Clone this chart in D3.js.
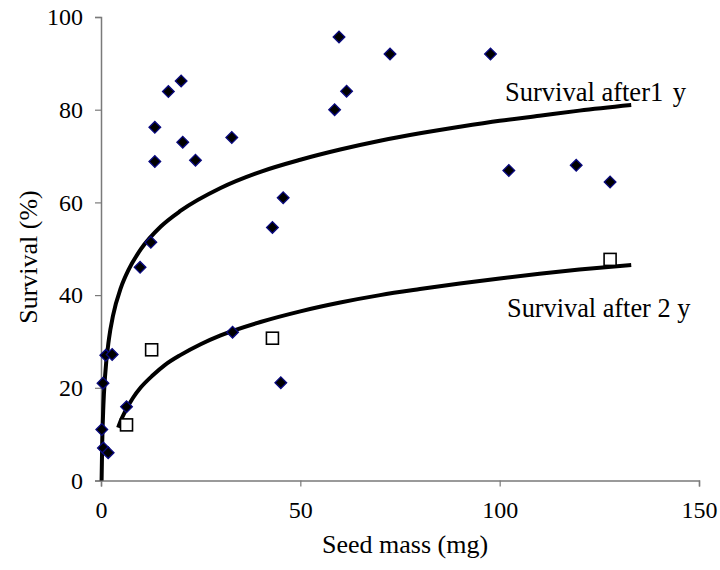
<!DOCTYPE html>
<html><head><meta charset="utf-8">
<script src="https://cdn.jsdelivr.net/npm/d3@7"></script>
<style>body{margin:0;background:#fff}svg{display:block}text{font-family:"Liberation Serif","Times New Roman",serif;fill:#000}</style>
</head><body><svg id="c" width="720" height="570"></svg>
<script>
// Seed mass (mg) vs survival (%) - observed points
const diamondX = [0.2,0.6,1.8,0.5,1.2,2.8,6.4,9.8,12.5,13.5,13.5,16.9,20.1,20.5,23.7,32.8,33.0,43.0,45.1,45.7,58.6,59.7,61.6,72.5,97.7,102.3,119.2,127.7];
const diamondY = [11.0,7.0,6.0,21.0,27.0,27.2,15.9,46.0,51.4,76.2,68.8,83.9,86.2,73.0,69.1,74.0,32.0,54.6,21.1,61.0,80.0,95.7,84.0,92.0,92.0,66.9,68.0,64.4];
const squareX = [6.4,12.7,43.0,127.7];
const squareY = [12.0,28.2,30.7,47.7];
// Trend curves
const curve1X = [0.15,0.3,0.6,1,2,3,5,7,10,15,20,30,40,50,60,70,80,90,100,110,120,133];
const curve1Y = [0,7.9,16.2,22.3,30.6,35.5,41.6,45.6,49.9,54.8,58.2,63.1,66.6,69.2,71.4,73.3,74.9,76.3,77.6,78.7,79.8,81.0];
const curve2X = [4.3,5,6,8,10,13,16,20,25,30,40,50,60,70,80,90,100,110,120,133];
const curve2Y = [11.4,13.0,14.8,17.8,20.1,22.7,24.9,27.1,29.4,31.3,34.2,36.5,38.4,40.0,41.3,42.5,43.6,44.6,45.5,46.5];
const xTicks = [0,50,100,150];
const yTicks = [0,20,40,60,80,100];
const curveLabels = ["Survival after1 y","Survival after 2 y"];
const xTitle = "Seed mass (mg)";
const yTitle = "Survival (%)";

const svg = d3.select("#c");
const x = d3.scaleLinear().domain([0,150]).range([101,699]);
const y = d3.scaleLinear().domain([0,100]).range([480.5,17]);
const axisCol = "#7a7a7a";

const gx = svg.append("g").attr("transform","translate(0,480.5)")
  .call(d3.axisBottom(x).tickValues(xTicks).tickSize(6).tickPadding(9).tickFormat(d3.format("d")));
const gy = svg.append("g").attr("transform","translate(101,0)")
  .call(d3.axisLeft(y).tickValues(yTicks).tickSize(6).tickPadding(12).tickFormat(d3.format("d")));
[gx,gy].forEach(g=>{
  g.select(".domain").attr("stroke",axisCol).attr("stroke-width",1.5);
  g.selectAll(".tick line").attr("stroke",axisCol).attr("stroke-width",1.2);
  g.selectAll(".tick text").attr("font-family","Liberation Serif").attr("font-size",24).attr("fill","#000");
});
gx.selectAll(".tick text").attr("dy","0.95em");

const line = d3.line().x(d=>x(d[0])).y(d=>y(d[1])).curve(d3.curveMonotoneX);
svg.append("path").datum(d3.zip(curve1X,curve1Y)).attr("d",line)
  .attr("fill","none").attr("stroke","#000").attr("stroke-width",4);
svg.append("path").datum(d3.zip(curve2X,curve2Y)).attr("d",line)
  .attr("fill","none").attr("stroke","#000").attr("stroke-width",4);

const diamond = d3.symbol().type(d3.symbolSquare).size(68);
svg.append("g").selectAll("path").data(d3.zip(diamondX,diamondY)).join("path")
  .attr("d",diamond)
  .attr("transform",d=>`translate(${x(d[0])},${y(d[1])}) rotate(45)`)
  .attr("fill","#000").attr("stroke","#0a0a80").attr("stroke-width",1.3);

svg.append("g").selectAll("rect").data(d3.zip(squareX,squareY)).join("rect")
  .attr("x",d=>x(d[0])-6).attr("y",d=>y(d[1])-6).attr("width",12).attr("height",12)
  .attr("fill","#fff").attr("stroke","#000").attr("stroke-width",1.6);

const l1 = svg.append("text").attr("x",505).attr("y",101).attr("font-size",26.5);
const parts = curveLabels[0].split(" y");
l1.append("tspan").text(parts[0]);
l1.append("tspan").attr("dx",3).text(" y");
svg.append("text").attr("x",507).attr("y",317).attr("font-size",26.3).text(curveLabels[1]);

svg.append("text").attr("x",405).attr("y",553).attr("text-anchor","middle").attr("font-size",26).text(xTitle);
svg.append("text").attr("transform","translate(37,257) rotate(-90)").attr("text-anchor","middle").attr("font-size",26).text(yTitle);
</script></body></html>
